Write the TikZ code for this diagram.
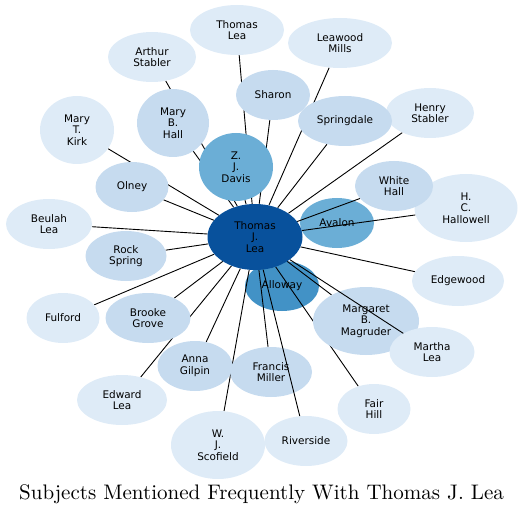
\documentclass[tikz,border=0pt]{standalone}
\usepackage{fontspec}
\usetikzlibrary{shapes.geometric}
\newfontfamily\nodefont{DejaVu Sans}
\newfontfamily\titlefont{lmroman10-regular.otf}
\definecolor{clight}{HTML}{DEEBF7}
\definecolor{cmid}{HTML}{C6DBEF}
\definecolor{cmed}{HTML}{6BAED6}
\definecolor{cdeep}{HTML}{4292C6}
\definecolor{cdark}{HTML}{08519C}
\pgfdeclarelayer{bg}
\pgfdeclarelayer{under}
\pgfdeclarelayer{over}
\pgfsetlayers{bg,under,main,over}
\tikzset{
  ell/.style={ellipse, inner sep=0pt, align=center, text=black,
    font=\nodefont\fontsize{10.5}{11.5}\selectfont},
  sz/.style 2 args={minimum width=#1bp, minimum height=#2bp},
  lt/.style={ell, fill=clight},
  md/.style={ell, fill=cmid},
  edge/.style={draw=black, line width=0.9bp}
}
\begin{document}
\begin{tikzpicture}[x=1bp,y=-1bp]
\useasboundingbox (0,0) rectangle (523,515);
% bottom layer node
\begin{pgfonlayer}{bg}
\node[ell, fill=cdeep, sz={74}{50}] (alloway) at (282,286) {Alloway};
\end{pgfonlayer}
% light nodes
\node[lt, sz={94}{50}] (thomaslea) at (237,30) {Thomas\\Lea};
\node[lt, sz={104}{50}] (leawood) at (340,43) {Leawood\\Mills};
\node[lt, sz={88}{50}] (arthur) at (152,57) {Arthur\\Stabler};
\node[lt, sz={88}{50}] (henry) at (430,113) {Henry\\Stabler};
\node[lt, sz={74}{68}] (kirk) at (77,130) {Mary\\T.\\Kirk};
\node[lt, sz={86}{50}] (beulah) at (49,224) {Beulah\\Lea};
\node[lt, sz={103}{68}] (hallowell) at (466,208) {H.\\C.\\Hallowell};
\node[lt, sz={92}{50}] (edgewood) at (458,281) {Edgewood};
\node[lt, sz={73}{50}] (fulford) at (63,318) {Fulford};
\node[lt, sz={73}{50}] (fairhill) at (374,409) {Fair\\Hill};
\node[lt, sz={90}{50}] (edward) at (122,400) {Edward\\Lea};
\node[lt, sz={94}{68}] (scofield) at (218,445) {W.\\J.\\Scofield};
\node[lt, sz={83}{50}] (riverside) at (306,441) {Riverside};
% medium nodes
\node[md, sz={74}{50}] (sharon) at (273,95) {Sharon};
\node[md, sz={94}{50}] (springdale) at (345,121) {Springdale};
\node[md, sz={78}{50}] (whitehall) at (394,186) {White\\Hall};
\node[md, sz={73}{50}] (olney) at (132,187) {Olney};
\node[md, sz={72}{68}] (maryhall) at (173,123) {Mary\\B.\\Hall};
\node[md, sz={81}{50}] (rockspring) at (126,256) {Rock\\Spring};
\node[md, sz={85}{50}] (brooke) at (148,318) {Brooke\\Grove};
\node[md, sz={75}{50}] (anna) at (195,366) {Anna\\Gilpin};
\node[md, sz={82}{50}] (francis) at (271,372) {Francis\\Miller};
\node[md, sz={106}{68}] (margaret) at (366,321) {Margaret\\B.\\Magruder};
\node[lt, sz={85}{50}] (martha) at (432,352) {Martha\\Lea};
% darker nodes
\node[ell, fill=cmed, sz={74}{68}] (davis) at (236,167) {Z.\\J.\\Davis};
\node[ell, fill=cmed, sz={74}{50}] (avalon) at (337,223) {Avalon};
\node[ell, fill=cdark, sz={95}{66}] (center) at (255,237) {Thomas\\J.\\Lea};
% edges under nodes
\begin{pgfonlayer}{under}
\foreach \n in {thomaslea,leawood,arthur,henry,kirk,beulah,edgewood,fulford,
  fairhill,edward,scofield,sharon,springdale,olney,maryhall,rockspring,brooke,
  anna,francis,margaret,davis,avalon,alloway}
  \draw[edge] (center) -- (\n);
\end{pgfonlayer}
% edges over nodes
\begin{pgfonlayer}{over}
\foreach \n in {whitehall,hallowell,martha,riverside}
  \draw[edge] (center) -- (\n);
\end{pgfonlayer}
% title
\node[anchor=base, font=\titlefont\fontsize{21.1}{25}\selectfont] (title) at (261.5,499)
  {Subjects Mentioned Frequently With Thomas J. Lea};
\end{tikzpicture}
\end{document}
